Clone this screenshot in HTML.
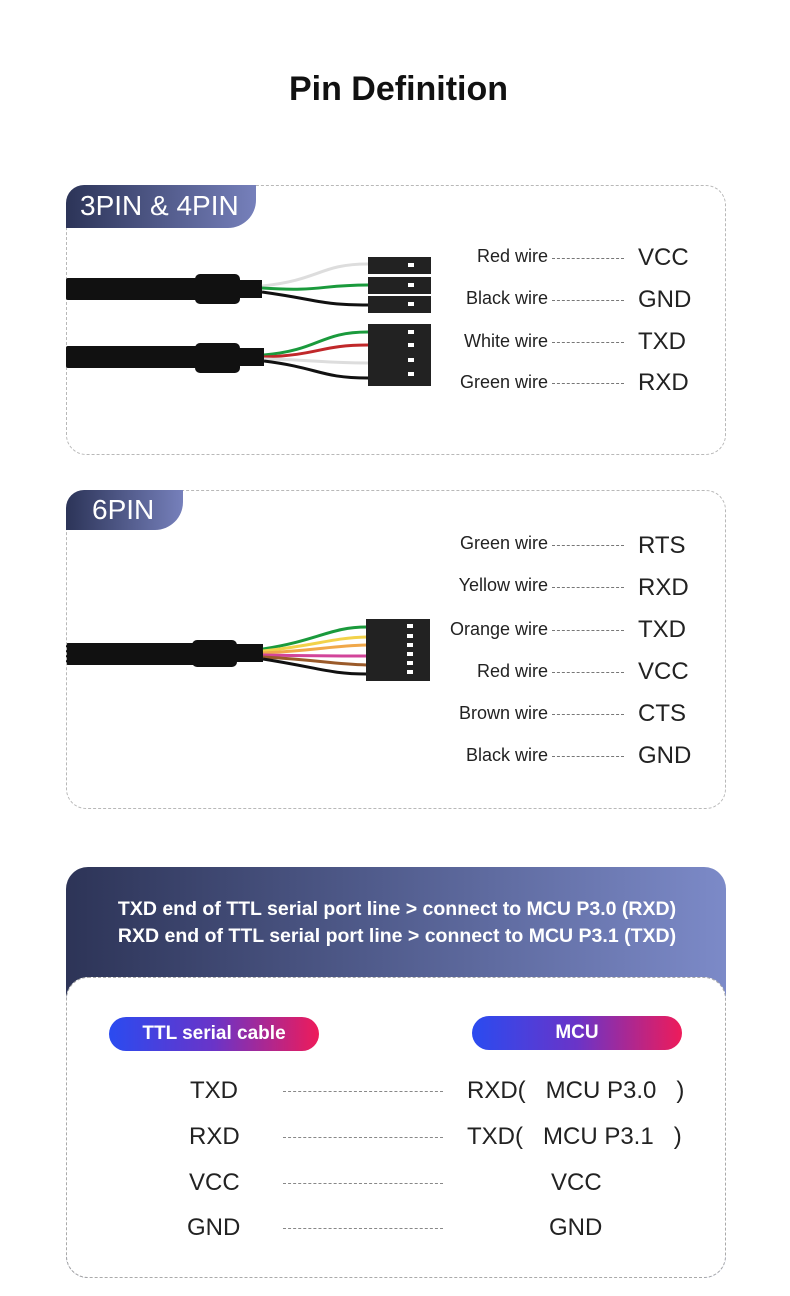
<!DOCTYPE html>
<html><head><meta charset="utf-8"><style>
body{margin:0;width:790px;height:1296px;background:#fff;position:relative;font-family:"Liberation Sans",sans-serif;overflow:hidden}
.a{position:absolute;white-space:nowrap}
.box{position:absolute;border:1px dashed #b8b8b8;border-radius:20px;box-sizing:border-box}
.tab{position:absolute;background:linear-gradient(90deg,#2c3458,#7680bb);color:#fff;border-radius:18px 0 28px 0;font-size:28px;box-sizing:border-box;padding-left:14px;line-height:42px}
.wl{position:absolute;width:300px;text-align:right;font-size:18px;color:#222;right:242px}
.dash{position:absolute;left:552px;width:72px;border-top:1px dashed #777}
.v{position:absolute;left:638px;font-size:24px;color:#222}
.pill{position:absolute;height:34px;border-radius:17px;background:linear-gradient(90deg,#2a4bf0,#6a34c8 50%,#ee1b5a);color:#fff;font-weight:bold;font-size:19px;text-align:center;line-height:34px}
.r{position:absolute;font-size:24px;color:#222}
.ld{position:absolute;left:283px;width:160px;border-top:1px dashed #888}
</style></head><body>
<div class="a" style="left:0;width:797px;text-align:center;top:70px;font-size:34px;font-weight:bold;color:#111">Pin Definition</div>

<div class="box" style="left:66px;top:185px;width:660px;height:270px"></div>
<div class="tab" style="left:66px;top:185px;width:190px;height:43px">3PIN &amp; 4PIN</div>
<svg class="a" style="left:0;top:0" width="790" height="800">
<g fill="#111">
<rect x="66" y="278" width="140" height="22" rx="2"/><rect x="195" y="274" width="45" height="30" rx="5"/><rect x="238" y="280" width="24" height="18"/>
<rect x="66" y="346" width="140" height="22" rx="2"/><rect x="195" y="343" width="45" height="30" rx="5"/><rect x="238" y="348" width="26" height="18"/>
</g>
<g fill="none" stroke-width="3">
<path d="M262 286 C320 280,320 264,368 264" stroke="#ddd"/>
<path d="M262 288 C320 292,320 285,368 285" stroke="#1a9a3c"/>
<path d="M262 292 C320 300,320 305,368 305" stroke="#111"/>
<path d="M264 355 C320 350,320 332,368 332" stroke="#1a9a3c"/>
<path d="M264 357 C320 355,320 345,368 345" stroke="#c0282a"/>
<path d="M264 359 C320 360,320 363,368 363" stroke="#ddd"/>
<path d="M264 361 C320 368,320 378,368 378" stroke="#111"/>
</g>
<g fill="#222">
<rect x="368" y="257" width="63" height="17"/><rect x="368" y="277" width="63" height="17"/><rect x="368" y="296" width="63" height="17"/>
<rect x="368" y="324" width="63" height="62"/>
</g>
<g fill="#fff"><rect x="408" y="263" width="6" height="4"/><rect x="408" y="283" width="6" height="4"/><rect x="408" y="302" width="6" height="4"/>
<rect x="408" y="330" width="6" height="4"/><rect x="408" y="343" width="6" height="4"/><rect x="408" y="358" width="6" height="4"/><rect x="408" y="372" width="6" height="4"/></g>

<g fill="#111">
<rect x="66" y="643" width="140" height="22" rx="2"/><rect x="192" y="640" width="45" height="27" rx="5"/><rect x="235" y="644" width="28" height="18"/>
</g>
<g fill="none" stroke-width="3">
<path d="M263 649 C320 640,330 627,367 627" stroke="#1a9a3c"/>
<path d="M263 651 C320 645,330 638,367 637" stroke="#f2d24a"/>
<path d="M263 653 C320 650,330 646,367 645" stroke="#f0a84a"/>
<path d="M263 655 C320 656,330 656,367 656" stroke="#d2449a"/>
<path d="M263 657 C320 660,330 664,367 665" stroke="#9a5a2a"/>
<path d="M263 659 C320 668,330 674,367 674" stroke="#111"/>
</g>
<rect x="366" y="619" width="64" height="62" fill="#222"/>
<g fill="#fff"><rect x="407" y="624" width="6" height="4"/><rect x="407" y="634" width="6" height="4"/><rect x="407" y="643" width="6" height="4"/><rect x="407" y="652" width="6" height="4"/><rect x="407" y="661" width="6" height="4"/><rect x="407" y="670" width="6" height="4"/></g>
</svg>

<div class="wl" style="top:246px">Red wire</div><div class="dash" style="top:258px"></div><div class="v" style="top:244px">VCC</div>
<div class="wl" style="top:288px">Black wire</div><div class="dash" style="top:300px"></div><div class="v" style="top:286px">GND</div>
<div class="wl" style="top:331px">White wire</div><div class="dash" style="top:342px"></div><div class="v" style="top:328px">TXD</div>
<div class="wl" style="top:372px">Green wire</div><div class="dash" style="top:383px"></div><div class="v" style="top:369px">RXD</div>

<div class="box" style="left:66px;top:490px;width:660px;height:319px"></div>
<div class="tab" style="left:66px;top:490px;width:117px;height:40px;line-height:40px;padding-left:26px">6PIN</div>
<div class="wl" style="top:533px">Green wire</div><div class="dash" style="top:545px"></div><div class="v" style="top:532px">RTS</div>
<div class="wl" style="top:575px">Yellow wire</div><div class="dash" style="top:587px"></div><div class="v" style="top:574px">RXD</div>
<div class="wl" style="top:619px">Orange wire</div><div class="dash" style="top:630px"></div><div class="v" style="top:616px">TXD</div>
<div class="wl" style="top:661px">Red wire</div><div class="dash" style="top:672px"></div><div class="v" style="top:658px">VCC</div>
<div class="wl" style="top:703px">Brown wire</div><div class="dash" style="top:714px"></div><div class="v" style="top:700px">CTS</div>
<div class="wl" style="top:745px">Black wire</div><div class="dash" style="top:756px"></div><div class="v" style="top:742px">GND</div>

<div class="a" style="left:66px;top:867px;width:660px;height:411px;border-radius:22px;background:linear-gradient(90deg,#2d3457,#4f5a8a 45%,#7c8ac8)"></div>
<div class="a" style="left:66px;top:896px;width:662px;text-align:center;color:#fff;font-weight:bold;font-size:19.5px;line-height:27px">TXD end of TTL serial port line &gt; connect to MCU P3.0 (RXD)<br>RXD end of TTL serial port line &gt; connect to MCU P3.1 (TXD)</div>
<div class="a" style="left:66px;top:977px;width:660px;height:301px;border-radius:22px;background:#fff;border:1px dashed #aaa;box-sizing:border-box"></div>
<div class="pill" style="left:109px;top:1017px;width:210px">TTL serial cable</div>
<div class="pill" style="left:472px;top:1016px;width:210px">MCU</div>

<div class="r" style="left:190px;top:1077px">TXD</div><div class="ld" style="top:1091px"></div><div class="r" style="left:467px;top:1077px">RXD(&nbsp;&nbsp;&nbsp;MCU P3.0&nbsp;&nbsp;&nbsp;)</div>
<div class="r" style="left:189px;top:1123px">RXD</div><div class="ld" style="top:1137px"></div><div class="r" style="left:467px;top:1123px">TXD(&nbsp;&nbsp;&nbsp;MCU P3.1&nbsp;&nbsp;&nbsp;)</div>
<div class="r" style="left:189px;top:1169px">VCC</div><div class="ld" style="top:1183px"></div><div class="r" style="left:551px;top:1169px">VCC</div>
<div class="r" style="left:187px;top:1214px">GND</div><div class="ld" style="top:1228px"></div><div class="r" style="left:549px;top:1214px">GND</div>
</body></html>
